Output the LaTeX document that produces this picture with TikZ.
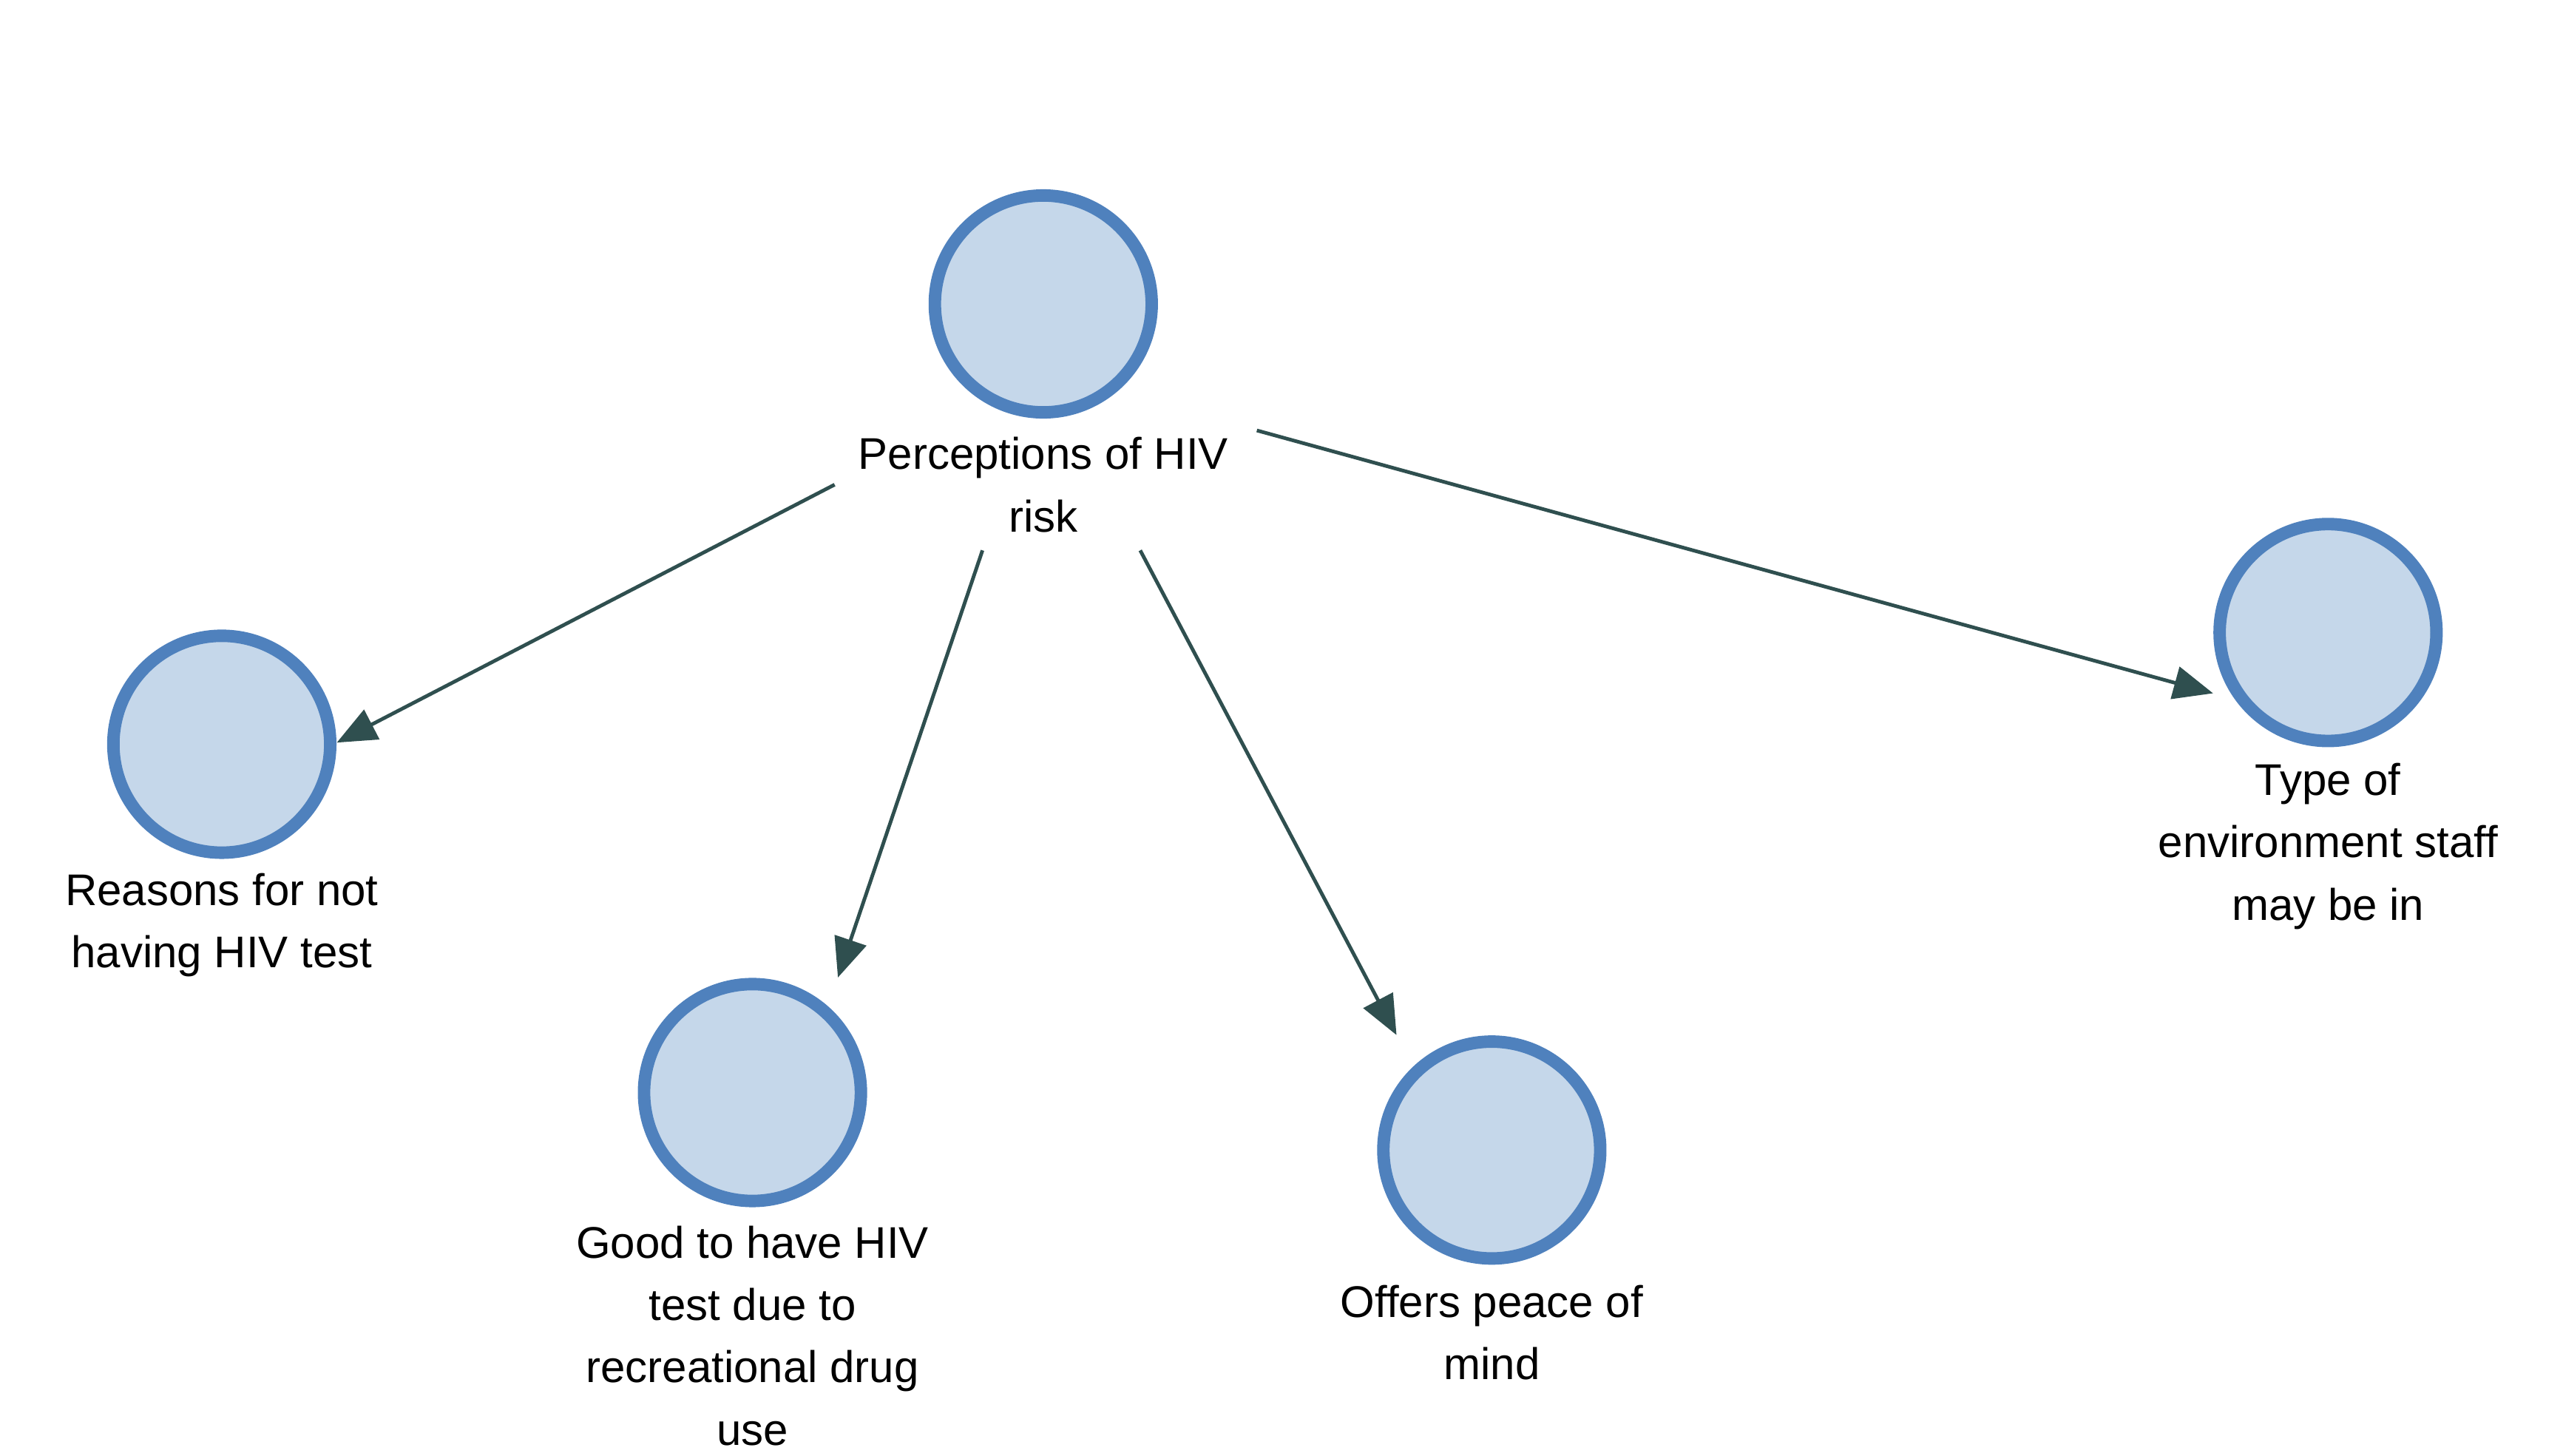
\documentclass[tikz,border=0pt]{standalone}
\usepackage{fontspec}
\setmainfont{Liberation Sans}
\usetikzlibrary{arrows.meta,calc}
\definecolor{cfill}{HTML}{C5D7EA}
\definecolor{cdraw}{HTML}{4F81BD}
\definecolor{carrow}{HTML}{2F4F4F}
\begin{document}
\begin{tikzpicture}[x=0.5pt,y=-0.5pt,
  circ/.style={circle,draw=cdraw,fill=cfill,line width=3.8pt,minimum size=66pt,inner sep=0pt},
  lbl/.style={align=center,font=\fontsize{13.5}{19}\selectfont,inner sep=1pt},
  conn/.style={draw=carrow,line width=1.1pt,-{Triangle[length=12pt,width=10pt]}}]
\useasboundingbox (0,0) rectangle (1560,886);
\node[circ] (top) at (635,185) {};
\node[lbl] (toplbl) at (635,295) {Perceptions of HIV\\risk};
\node[circ] (left) at (135,453) {};
\node[lbl] (leftlbl) at (135,563) {Reasons for not\\having HIV test};
\node[circ] (good) at (458,665) {};
\node[lbl] (goodlbl) at (458,813) {Good to have HIV\\test due to\\recreational drug\\use};
\node[circ] (offers) at (908,700) {};
\node[lbl] (offlbl) at (908,811) {Offers peace of\\mind};
\node[circ] (type) at (1417,385) {};
\node[lbl] (typelbl) at (1417,515) {Type of\\environment staff\\may be in};
\coordinate (s1) at (508,295);
\coordinate (s2) at (598,335);
\coordinate (s3) at (694,335);
\coordinate (s4) at (765,262);
\coordinate (e1) at (205,452);
\coordinate (e2) at (510,595);
\coordinate (e3) at (850,630);
\coordinate (e4) at (1347,422);
\draw[conn] (s1) -- (e1);
\draw[conn] (s2) -- (e2);
\draw[conn] (s3) -- (e3);
\draw[conn] (s4) -- (e4);
\end{tikzpicture}
\end{document}
